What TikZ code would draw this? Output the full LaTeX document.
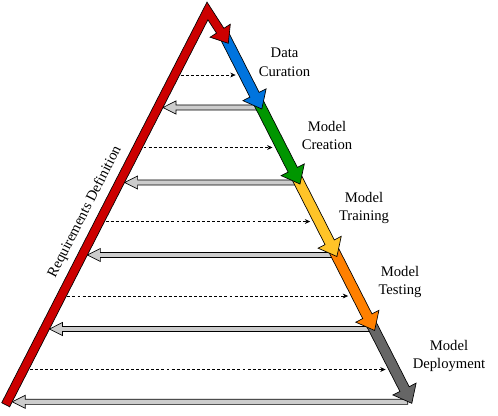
\documentclass[tikz,border=0pt]{standalone}
\usepackage{fontspec}
\setmainfont{Liberation Serif}
\usetikzlibrary{calc,arrows.meta}

\definecolor{reqred}{RGB}{204,0,0}
\definecolor{curblue}{RGB}{0,116,222}
\definecolor{creagreen}{RGB}{0,150,0}
\definecolor{trainyellow}{RGB}{255,196,40}
\definecolor{testorange}{RGB}{255,128,0}
\definecolor{deploygray}{RGB}{102,102,102}
\definecolor{backgray}{RGB}{204,204,204}

\tikzset{
  barline/.style={draw=black, line width=0.5pt},
  backarrow/.style={draw=black, fill=backgray, line width=0.5pt},
  flowdash/.style={-{Stealth[length=4pt,width=3.6pt]}, dash pattern=on 2.2pt off 1.6pt, line width=0.5pt},
  phaselabel/.style={align=center, inner sep=0pt, font=\fontsize{11}{14}\selectfont}
}

% block arrow: [style]{from}{to}{half shaft}{half head}{head length}
\newcommand{\blockarrow}[6][]{%
  \coordinate (bh) at ($(#3)!#6!(#2)$);
  \filldraw[#1] ($(#2)!#4!90:(#3)$) -- ($(bh)!#4!90:(#3)$) -- ($(bh)!#5!90:(#3)$) -- (#3)
    -- ($(bh)!#5!-90:(#3)$) -- ($(bh)!#4!-90:(#3)$) -- ($(#2)!#4!-90:(#3)$) -- cycle;}

\begin{document}
\begin{tikzpicture}[x=0.75pt,y=-0.75pt]
\useasboundingbox (0,0) rectangle (498,415);

% tips of the phase arrows
\coordinate (t0) at (228.3,43.3);
\coordinate (t1) at (261.8,109);
\coordinate (t2) at (300,184);
\coordinate (t3) at (336.9,256.5);
\coordinate (t4) at (374.6,330.5);
\coordinate (t5) at (411.8,403.3);
\coordinate (s1) at ($(t0)!-7.5pt!(t1)$);
\coordinate (s2) at ($(t1)!-7.5pt!(t2)$);
\coordinate (s3) at ($(t2)!-7.5pt!(t3)$);
\coordinate (s4) at ($(t3)!-7.5pt!(t4)$);
\coordinate (s5) at ($(t4)!-7.5pt!(t5)$);

% feedback arrows
\coordinate (r1) at (259.8,107.5); \coordinate (g1) at (163,107.5);
\coordinate (r2) at (298,182.5);   \coordinate (g2) at (124.6,182.5);
\coordinate (r3) at (334.9,255);   \coordinate (g3) at (87.4,255);
\coordinate (r4) at (372.6,329);   \coordinate (g4) at (49.5,329);
\coordinate (r5) at (407.8,401.8); \coordinate (g5) at (12.2,401.8);

% requirement flows
\coordinate (d1a) at (180.7,75);   \coordinate (d1b) at (235.6,75);
\coordinate (d2a) at (143.5,147.5); \coordinate (d2b) at (272.5,147.5);
\coordinate (d3a) at (105.6,221.5); \coordinate (d3b) at (310.2,221.5);
\coordinate (d4a) at (67.4,296);   \coordinate (d4b) at (348.1,296);
\coordinate (d5a) at (29.7,369.5); \coordinate (d5b) at (385.6,369.5);

\draw[flowdash] (d1a) -- (d1b);
\draw[flowdash] (d2a) -- (d2b);
\draw[flowdash] (d3a) -- (d3b);
\draw[flowdash] (d4a) -- (d4b);
\draw[flowdash] (d5a) -- (d5b);

\blockarrow[backarrow]{r1}{g1}{1.9pt}{4.9pt}{9.75pt}
\blockarrow[backarrow]{r2}{g2}{1.9pt}{4.9pt}{9.75pt}
\blockarrow[backarrow]{r3}{g3}{1.9pt}{4.9pt}{9.75pt}
\blockarrow[backarrow]{r4}{g4}{1.9pt}{4.9pt}{9.75pt}
\blockarrow[backarrow]{r5}{g5}{1.9pt}{4.9pt}{9.75pt}

\blockarrow[barline,fill=deploygray]{s5}{t5}{3.9pt}{9.75pt}{12pt}
\blockarrow[barline,fill=testorange]{s4}{t4}{3.9pt}{9.75pt}{12pt}
\blockarrow[barline,fill=trainyellow]{s3}{t3}{3.9pt}{9.75pt}{12pt}
\blockarrow[barline,fill=creagreen]{s2}{t2}{3.9pt}{9.75pt}{12pt}
\blockarrow[barline,fill=curblue]{s1}{t1}{3.9pt}{9.75pt}{12pt}

% requirements bar
\filldraw[barline,fill=reqred] (1.7,402.7) -- (207.0,2.1) -- (223.9,28.3) -- (230.3,24.2) -- (t0)
  -- (210.1,37.2) -- (216.5,33.1) -- (207.9,19.8) -- (9.6,406.8) -- cycle;

\node[phaselabel] (dc) at (284.5,62) {Data\\Curation};
\node[phaselabel] (mc) at (327,135.5) {Model\\Creation};
\node[phaselabel] (mt) at (364,208) {Model\\Training};
\node[phaselabel] (ms) at (400,282) {Model\\Testing};
\node[phaselabel] (md) at (449,356) {Model\\Deployment};
\node[phaselabel, rotate=62.9] (rd) at (85,212) {Requirements Definition};
\end{tikzpicture}
\end{document}
